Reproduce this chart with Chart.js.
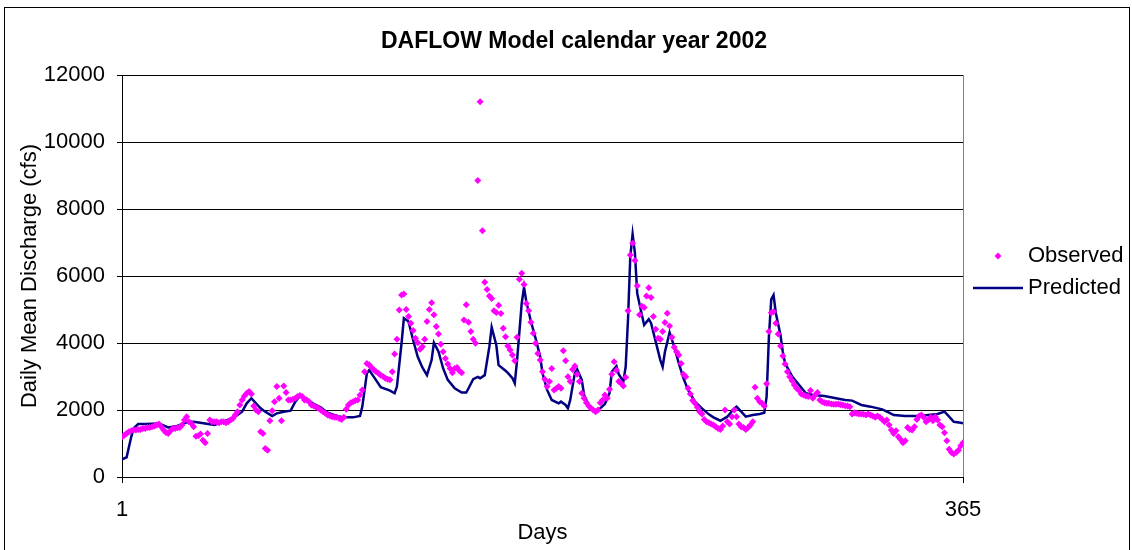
<!DOCTYPE html>
<html>
<head>
<meta charset="utf-8">
<title>DAFLOW Model calendar year 2002</title>
<script src="https://cdn.jsdelivr.net/npm/chart.js@4.4.1/dist/chart.umd.min.js"></script>
<style>
  html, body { margin: 0; padding: 0; background: #fff; overflow: hidden; }
  #wrap { position: relative; width: 1132px; height: 550px; }
  #frame { position: absolute; left: 4px; top: 7px; width: 1124px; height: 600px; border: 1px solid #000; pointer-events: none; }
</style>
</head>
<body>
<div id="wrap">
  <canvas id="flow"></canvas>
  <div id="frame"></div>
</div>
<script>
const FONT = '"Liberation Sans", Arial, sans-serif';

const xTicks = [1, 365];

// observed daily mean discharge (cfs), day 1 .. 365
const observed = [
  1200, 1250, 1300, 1350, 1380, 1400, 1400, 1420, 1420, 1450,
  1450, 1480, 1480, 1500, 1520, 1550, 1580, 1500, 1400, 1330,
  1300, 1380, 1450, 1450, 1470, 1480, 1550, 1700, 1800, 1650,
  1600, 1500, 1220, 1230, 1280, 1100, 1020, 1300, 1700, 1650,
  1650, 1650, 1620, 1650, 1650, 1620, 1650, 1700, 1750, 1850,
  1950, 2150, 2300, 2420, 2500, 2550, 2480, 2120, 2000, 1950,
  1350, 1300, 850, 800, 1680, 1980, 2250, 2700, 2350, 1680,
  2720, 2520, 2300, 2300, 2320, 2350, 2400, 2430, 2400, 2300,
  2300, 2250, 2150, 2120, 2080, 2050, 2000, 1950, 1900, 1850,
  1820, 1800, 1780, 1780, 1750, 1720, 1780, 2020, 2150, 2220,
  2250, 2280, 2300, 2450, 2600, 3140, 3390, 3350, 3270, 3200,
  3140, 3100, 3040, 3000, 2950, 2920, 2900, 3140, 3670, 4110,
  4985, 5430, 5460, 5000, 4790, 4590, 4370, 4140, 4010, 3810,
  3890, 4110, 4640, 5000, 5200, 4840, 4490, 4270, 3960, 3740,
  3540, 3370, 3240, 3110, 3240, 3270, 3170, 3110, 4690, 5140,
  4620, 4340, 4110, 3990, 8850, 11200, 7350, 5810, 5600, 5400,
  5330, 4960, 4910, 5130, 4880, 4440, 4190, 3910, 3790, 3640,
  3470, 4170, 5900, 6080, 5750, 5180, 4960, 4620, 4290, 3990,
  3690, 3490, 3140, 2920, 2700, 2850, 3240, 2600, 2650, 2700,
  2650, 3770, 3470, 2990, 2850, 3210, 3310, 3070, 2850, 2500,
  2350, 2220, 2120, 2050, 2000, 1950, 2000, 2220, 2300, 2450,
  2350, 2620, 3070, 3440, 3190, 2850, 2800, 2720, 2980, 4960,
  6630, 6980, 6460, 5710, 4840, 5100, 5060, 5400, 5650, 5360,
  4790, 4410, 4140, 4110, 4340, 4610, 4890, 4510, 4170, 3870,
  3740, 3640, 3390, 3070, 2990, 2650, 2480, 2280, 2200, 2080,
  1950, 1880, 1720, 1650, 1620, 1580, 1550, 1500, 1450, 1420,
  1520, 2000, 1650, 1580, 1800, 2000, 1800, 1580, 1500, 1480,
  1420, 1480, 1550, 1650, 2680, 2350, 2250, 2200, 2120, 2780,
  4340, 4900, 4930, 4590, 4270, 3910, 3610, 3370, 3140, 2990,
  2870, 2750, 2650, 2580, 2480, 2450, 2420, 2400, 2580, 2350,
  2450, 2520, 2300, 2250, 2220, 2200, 2200, 2180, 2170, 2170,
  2180, 2160, 2150, 2130, 2120, 2100, 1880, 1920, 1900, 1880,
  1880, 1870, 1850, 1880, 1850, 1820, 1780, 1820, 1780, 1720,
  1650, 1700, 1550, 1400, 1300, 1380, 1200, 1120, 1020, 1080,
  1480, 1420, 1400, 1500, 1720, 1820, 1850, 1780, 1650, 1700,
  1780, 1680, 1800, 1700, 1550, 1500, 1320, 1080, 830, 730,
  690, 730, 800, 930, 1020
];

// predicted (DAFLOW) line, read at its turning points
const predDays = [
  1, 3, 5, 6, 8, 11, 17, 21, 25, 28, 32, 37, 41, 45, 50, 53, 55, 57, 59, 61,
  63, 66, 68, 71, 74, 76, 78, 81, 84, 87, 90, 94, 97, 101, 104, 105, 107, 108, 110, 113,
  117, 119, 120, 122, 123, 125, 127, 129, 131, 133, 135, 136, 138, 140, 142, 145, 148, 150, 151, 153,
  155, 156, 158, 160, 161, 163, 164, 167, 168, 170, 171, 172, 174, 175, 176, 178, 180, 182, 183, 185,
  187, 190, 191, 193, 194, 195, 197, 198, 200, 201, 203, 206, 208, 210, 212, 213, 215, 216, 218, 219,
  220, 221, 222, 223, 224, 226, 227, 229, 230, 232, 234, 235, 236, 238, 240, 242, 244, 246, 249, 252,
  255, 257, 260, 263, 266, 267, 269, 271, 274, 277, 279, 280, 281, 282, 283, 284, 286, 287, 288, 291,
  294, 297, 300, 305, 310, 314, 317, 321, 325, 330, 333, 335, 340, 346, 350, 354, 357, 359, 361, 364, 365
];
const predValues = [
  530, 590, 1200, 1450, 1580, 1580, 1600, 1480, 1520, 1620, 1650, 1600, 1550, 1650, 1800, 1950, 2200, 2350, 2200, 2050,
  1950, 1820, 1900, 1950, 1980, 2250, 2420, 2320, 2180, 2080, 1920, 1820, 1780, 1780, 1820, 2100, 3100, 3190, 2990, 2680,
  2580, 2500, 2700, 4000, 4740, 4640, 4090, 3590, 3270, 3040, 3490, 4010, 3740, 3240, 2900, 2650, 2520, 2520, 2650, 2920,
  2990, 2950, 3040, 3890, 4470, 3940, 3340, 3170, 3110, 2950, 2800, 3490, 5180, 5660, 5230, 4640, 4140, 3590, 3100, 2600,
  2300, 2200, 2250, 2150, 2050, 2300, 3100, 3210, 2900, 2450, 2150, 1980, 2050, 2180, 2500, 3140, 3310, 3070, 2850, 3290,
  4690, 6580, 7250, 6680, 5480, 4840, 4540, 4710, 4590, 4040, 3490, 3290, 3740, 4310, 3890, 3390, 2950, 2600, 2250, 2050,
  1870, 1780, 1680, 1800, 2050, 2100, 1950, 1800, 1850, 1880, 1920, 2400, 4190, 5300, 5430, 4890, 4240, 3740, 3390, 3010,
  2750, 2500, 2450, 2420, 2350, 2300, 2280, 2150, 2100, 2020, 1920, 1850, 1820, 1820, 1850, 1880, 1950, 1800, 1650, 1620, 1600
];

const observedPoints = observed.map((v, i) => ({ x: i + 1, y: v }));
const predictedPoints = predDays.map((d, i) => ({ x: d, y: predValues[i] }));

// gray right edge of the plot area, like the Excel frame
const plotFrame = {
  id: 'plotFrame',
  beforeDatasetsDraw(chart) {
    const { ctx, chartArea } = chart;
    ctx.save();
    ctx.strokeStyle = '#808080';
    ctx.lineWidth = 1;
    ctx.beginPath();
    ctx.moveTo(chartArea.right + 0.5, chartArea.top);
    ctx.lineTo(chartArea.right + 0.5, chartArea.bottom);
    ctx.stroke();
    ctx.restore();
  }
};

// legend on the right: diamond for Observed, line for Predicted
const sideLegend = {
  id: 'sideLegend',
  afterDraw(chart) {
    const { ctx, chartArea } = chart;
    const x0 = chartArea.right;
    const midY = (chartArea.top + chartArea.bottom) / 2;
    ctx.save();
    ctx.font = '22px ' + FONT;
    ctx.textBaseline = 'middle';
    chart.data.datasets.forEach((ds, i) => {
      const y = midY - 20 + i * 32;
      if (ds.showLine) {
        ctx.strokeStyle = ds.borderColor;
        ctx.lineWidth = ds.borderWidth;
        ctx.beginPath();
        ctx.moveTo(x0 + 10, y);
        ctx.lineTo(x0 + 60, y);
        ctx.stroke();
      } else {
        const r = 3.5;
        const cx = x0 + 35;
        ctx.fillStyle = ds.backgroundColor;
        ctx.beginPath();
        ctx.moveTo(cx, y - r);
        ctx.lineTo(cx + r, y);
        ctx.lineTo(cx, y + r);
        ctx.lineTo(cx - r, y);
        ctx.closePath();
        ctx.fill();
      }
      ctx.fillStyle = '#000';
      ctx.fillText(ds.label, x0 + 65, y);
    });
    ctx.restore();
  }
};

new Chart(document.getElementById('flow'), {
  type: 'scatter',
  data: {
    datasets: [
      {
        label: 'Observed',
        data: observedPoints,
        showLine: false,
        pointStyle: 'rectRot',
        pointRadius: 3.5,
        pointBorderWidth: 0,
        backgroundColor: '#FF00FF',
        borderColor: '#FF00FF',
        order: 0
      },
      {
        label: 'Predicted',
        data: predictedPoints,
        showLine: true,
        pointRadius: 0,
        borderColor: '#000080',
        backgroundColor: '#000080',
        borderWidth: 2.5,
        tension: 0,
        order: 1
      }
    ]
  },
  options: {
    responsive: true,
    maintainAspectRatio: false,
    animation: false,
    layout: { padding: { left: 16, right: 0, top: 0, bottom: 0 } },
    plugins: {
      legend: { display: false },
      tooltip: { enabled: false },
      title: {
        display: true,
        text: 'DAFLOW Model calendar year 2002',
        color: '#000',
        font: { family: FONT, size: 23, weight: 'bold' },
        padding: { top: 28, bottom: 19.4 }
      }
    },
    scales: {
      x: {
        type: 'linear',
        min: 1,
        max: 365,
        afterBuildTicks: (scale) => { scale.ticks = xTicks.map(v => ({ value: v })); },
        afterFit: (scale) => { scale.height = 73; },
        grid: { drawOnChartArea: false, color: '#000', tickLength: 6 },
        border: { color: '#000', width: 1 },
        ticks: { color: '#000', font: { family: FONT, size: 22 }, padding: 14, maxRotation: 0 },
        title: {
          display: true,
          text: 'Days',
          color: '#000',
          font: { family: FONT, size: 22 },
          padding: { top: 0, bottom: 4 }
        }
      },
      y: {
        min: 0,
        max: 12000,
        ticks: {
          stepSize: 2000,
          color: '#000',
          font: { family: FONT, size: 22 },
          padding: 12,
          callback: (v) => String(v)
        },
        afterFit: (scale) => { scale.width = 106; },
        grid: { color: '#000', tickLength: 5 },
        border: { color: '#000', width: 1 },
        title: {
          display: true,
          text: 'Daily Mean Discharge (cfs)',
          color: '#000',
          font: { family: FONT, size: 22 },
          padding: { top: 1, bottom: 0 }
        }
      },
      // empty right axis that only reserves room for the legend
      legendRoom: {
        type: 'linear',
        position: 'right',
        min: 0,
        max: 1,
        ticks: { display: false },
        grid: { display: false },
        border: { display: false },
        afterFit: (scale) => { scale.width = 169; }
      }
    }
  },
  plugins: [plotFrame, sideLegend]
});
</script>
</body>
</html>
